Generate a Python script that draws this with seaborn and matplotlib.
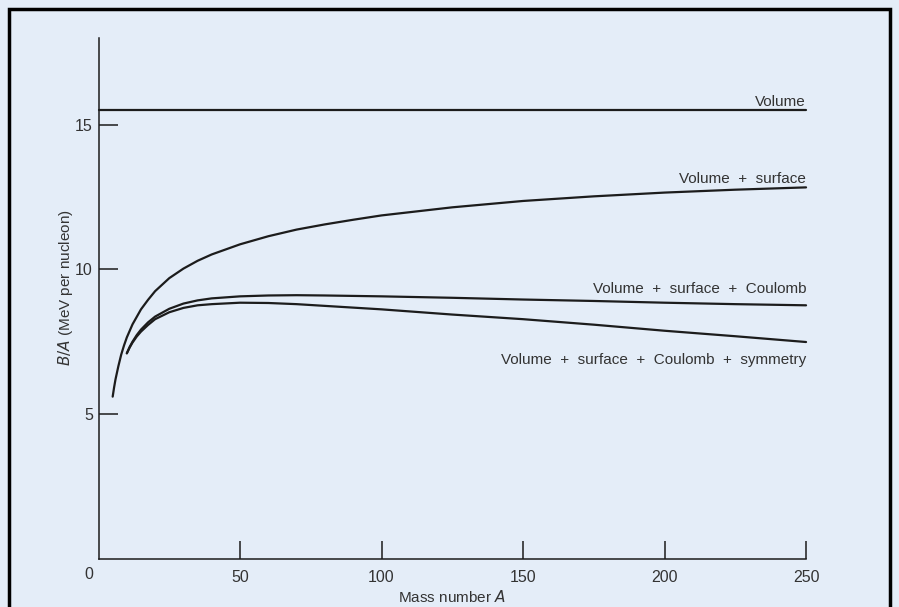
import matplotlib
matplotlib.use("Agg")
import matplotlib.pyplot as plt
import seaborn as sns
import pandas as pd
from matplotlib.patches import Rectangle

# ---- data ----
A_volume = [0, 250]
BA_volume = [15.52, 15.52]

A_vs = [5, 5.5, 6, 7, 8, 9, 10, 12, 15, 17.5, 20, 25, 30, 35, 40, 50, 60, 70, 80, 90, 100, 125, 150, 175, 200, 225, 250]
BA_vs = [5.6, 5.92, 6.2, 6.65, 7.05, 7.37, 7.65, 8.1, 8.62, 8.95, 9.25, 9.7, 10.03, 10.3, 10.52, 10.87, 11.15,
         11.38, 11.56, 11.72, 11.87, 12.15, 12.37, 12.53, 12.66, 12.76, 12.84]

A_vsc = [10, 11, 12, 13.5, 15, 17.5, 20, 25, 30, 35, 40, 50, 60, 70, 80, 100, 125, 150, 175, 200, 225, 250]
BA_vsc = [7.1, 7.32, 7.5, 7.73, 7.92, 8.17, 8.37, 8.64, 8.82, 8.93, 9.0, 9.07, 9.1, 9.11, 9.1, 9.07, 9.02,
          8.96, 8.91, 8.85, 8.8, 8.76]

A_vscs = [10, 11, 12, 13.5, 15, 17.5, 20, 25, 30, 35, 40, 50, 60, 70, 80, 100, 125, 150, 175, 200, 225, 250]
BA_vscs = [7.1, 7.3, 7.47, 7.68, 7.85, 8.08, 8.28, 8.52, 8.67, 8.76, 8.8, 8.85, 8.84, 8.8, 8.74, 8.62, 8.44,
           8.28, 8.09, 7.88, 7.69, 7.49]

labels = ["Volume", "Volume  +  surface", "Volume  +  surface  +  Coulomb",
          "Volume  +  surface  +  Coulomb  +  symmetry"]
label_y = [15.64, 13.0, 9.18, 6.73]

x_ticks = [50, 100, 150, 200, 250]
y_ticks = [5, 10, 15]

# ---- style ----
sns.set_theme(style="white")
plt.rcParams['font.family'] = ['Liberation Sans', 'DejaVu Sans']
bg = "#e4edf8"
ink = "#1c1c1c"
txt = "#333333"

fig = plt.figure(figsize=(8.99, 6.07), dpi=100, facecolor=bg)
ax = fig.add_axes([0.1096, 0.0799, 0.7870, 0.8571])
ax.set_facecolor(bg)

series = [(A_volume, BA_volume), (A_vs, BA_vs), (A_vsc, BA_vsc), (A_vscs, BA_vscs)]
for (xs, ys) in series:
    df = pd.DataFrame({"A": xs, "BA": ys})
    sns.lineplot(data=df, x="A", y="BA", ax=ax, color=ink, linewidth=1.6,
                 sort=False, estimator=None, clip_on=False)

for lab, yy in zip(labels, label_y):
    ax.text(250, yy, lab, ha="right", va="baseline", fontsize=11, color=txt)

ax.set_xlim(0, 250)
ax.set_ylim(0, 18)
ax.set_xticks(x_ticks)
ax.set_yticks(y_ticks)
ax.set_xticklabels([str(t) for t in x_ticks])
ax.set_yticklabels([str(t) for t in y_ticks])
ax.tick_params(axis="x", bottom=True, direction="in", length=13, width=1.1, pad=8, labelsize=11.5,
               colors=ink, labelcolor=txt)
ax.tick_params(axis="y", left=True, direction="in", length=14, width=1.1, pad=4, labelsize=11.5,
               colors=ink, labelcolor=txt)
ax.text(-3.5, -0.57, "0", ha="center", va="center", fontsize=11.5, color=txt, clip_on=False)

for s in ["top", "right"]:
    ax.spines[s].set_visible(False)
for s in ["left", "bottom"]:
    ax.spines[s].set_color(ink)
    ax.spines[s].set_linewidth(1.1)

ax.set_xlabel("Mass number $\\it{A}$", fontsize=11, color=txt, labelpad=3)
ax.set_ylabel("$\\it{B/A}$ (MeV per nucleon)", fontsize=11, color=txt, labelpad=12)
ax.yaxis.set_label_coords(-0.033, 0.52)
ax.grid(False)

fig.add_artist(Rectangle((9 / 899, -0.05), 881 / 899, 1.05 - 9 / 607, fill=False,
                         edgecolor="black", linewidth=2.5, transform=fig.transFigure))

fig.savefig("out.png", dpi=100, facecolor=bg)
